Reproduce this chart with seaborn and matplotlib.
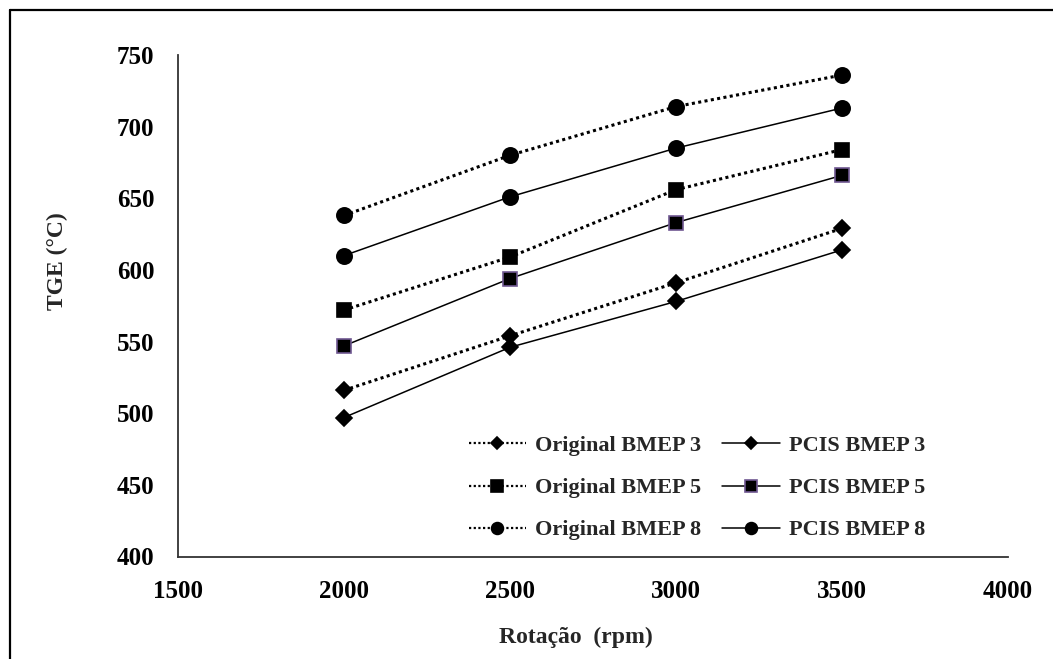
import matplotlib
matplotlib.use("Agg")
import matplotlib.pyplot as plt
from matplotlib.lines import Line2D
import seaborn as sns
import pandas as pd

# ---- data ----
rpm = [2000, 2500, 3000, 3500]
original_bmep3 = [516, 554, 591, 629]
pcis_bmep3 = [497, 546, 578, 614]
original_bmep5 = [572, 609, 656, 684]
pcis_bmep5 = [547, 594, 633, 666]
original_bmep8 = [638, 680, 714, 736]
pcis_bmep8 = [610, 651, 685, 713]

x_ticks = [1500, 2000, 2500, 3000, 3500, 4000]
y_ticks = [400, 450, 500, 550, 600, 650, 700, 750]

sns.set_theme(style="white")
plt.rcParams['font.family'] = ['Liberation Serif', 'DejaVu Serif']
plt.rcParams['font.weight'] = 'bold'

fig = plt.figure(figsize=(10.53, 6.59), dpi=100)
ax = fig.add_axes([178/1053, 1 - 556.5/659, (1008 - 178)/1053, (556.5 - 55)/659])

dotted = (0, (1, 1.1))
series = [
    ("Original BMEP 3", original_bmep3, "D", dotted, 2.2, "black", 8),
    ("Original BMEP 5", original_bmep5, "s", dotted, 2.2, "black", 10.5),
    ("Original BMEP 8", original_bmep8, "o", dotted, 2.2, "black", 11),
    ("PCIS BMEP 3", pcis_bmep3, "D", "-", 1.1, "black", 8),
    ("PCIS BMEP 5", pcis_bmep5, "s", "-", 1.1, "#6f5891", 10.5),
    ("PCIS BMEP 8", pcis_bmep8, "o", "-", 1.1, "black", 11),
]

for label, vals, mk, ls, lw, mec, ms in series:
    df = pd.DataFrame({"rpm": rpm, "tge": vals})
    sns.lineplot(data=df, x="rpm", y="tge", ax=ax, color="black", marker=mk,
                 linestyle=ls, linewidth=lw, markersize=ms, markeredgecolor=mec,
                 markeredgewidth=1.2, markerfacecolor="black", label=label)

ax.set_xlim(1500, 4000)
ax.set_ylim(400, 750)
ax.set_xticks(x_ticks)
ax.set_yticks(y_ticks)
ax.tick_params(axis='both', length=0, labelsize=18, pad=17, colors='black')
for t in ax.get_xticklabels() + ax.get_yticklabels():
    t.set_fontweight('bold')
ax.set_xlabel("")
ax.set_ylabel("")
for s in ["top", "right"]:
    ax.spines[s].set_visible(False)
for s in ["left", "bottom"]:
    ax.spines[s].set_color("#333333")
    ax.spines[s].set_linewidth(1.3)
ax.grid(False)

fig.text(576/1053, 1 - 637/659, "Rotação  (rpm)", ha='center', va='center',
         fontsize=17, fontweight='bold')
fig.text(57/1053, 1 - 261/659, "TGE (°C)", ha='center', va='center',
         rotation=90, fontsize=17, fontweight='bold')

leg = ax.legend(ncol=2, loc='center', bbox_to_anchor=(697/1053, 1 - 488/659),
                bbox_transform=fig.transFigure, frameon=False,
                prop={'family': 'Liberation Serif', 'weight': 'bold', 'size': 16},
                handlelength=2.6, handletextpad=0.4, columnspacing=0.95,
                labelspacing=0.97, borderpad=0)
legend_sizes = [6.5, 8.5, 8.5, 6.5, 8.5, 8.5]
for h, ms in zip(leg.legend_handles, legend_sizes):
    h.set_markersize(ms)
    if h.get_linestyle() != '-':
        h.set_linewidth(1.6)

# figure border (top & left visible; right/bottom clipped in original)
fig.add_artist(Line2D([10/1053, 1.01], [1 - 10/659, 1 - 10/659],
                      transform=fig.transFigure, color='black', linewidth=1.6))
fig.add_artist(Line2D([10/1053, 10/1053], [-0.01, 1 - 10/659],
                      transform=fig.transFigure, color='black', linewidth=1.6))

fig.savefig("out.png", dpi=100)
